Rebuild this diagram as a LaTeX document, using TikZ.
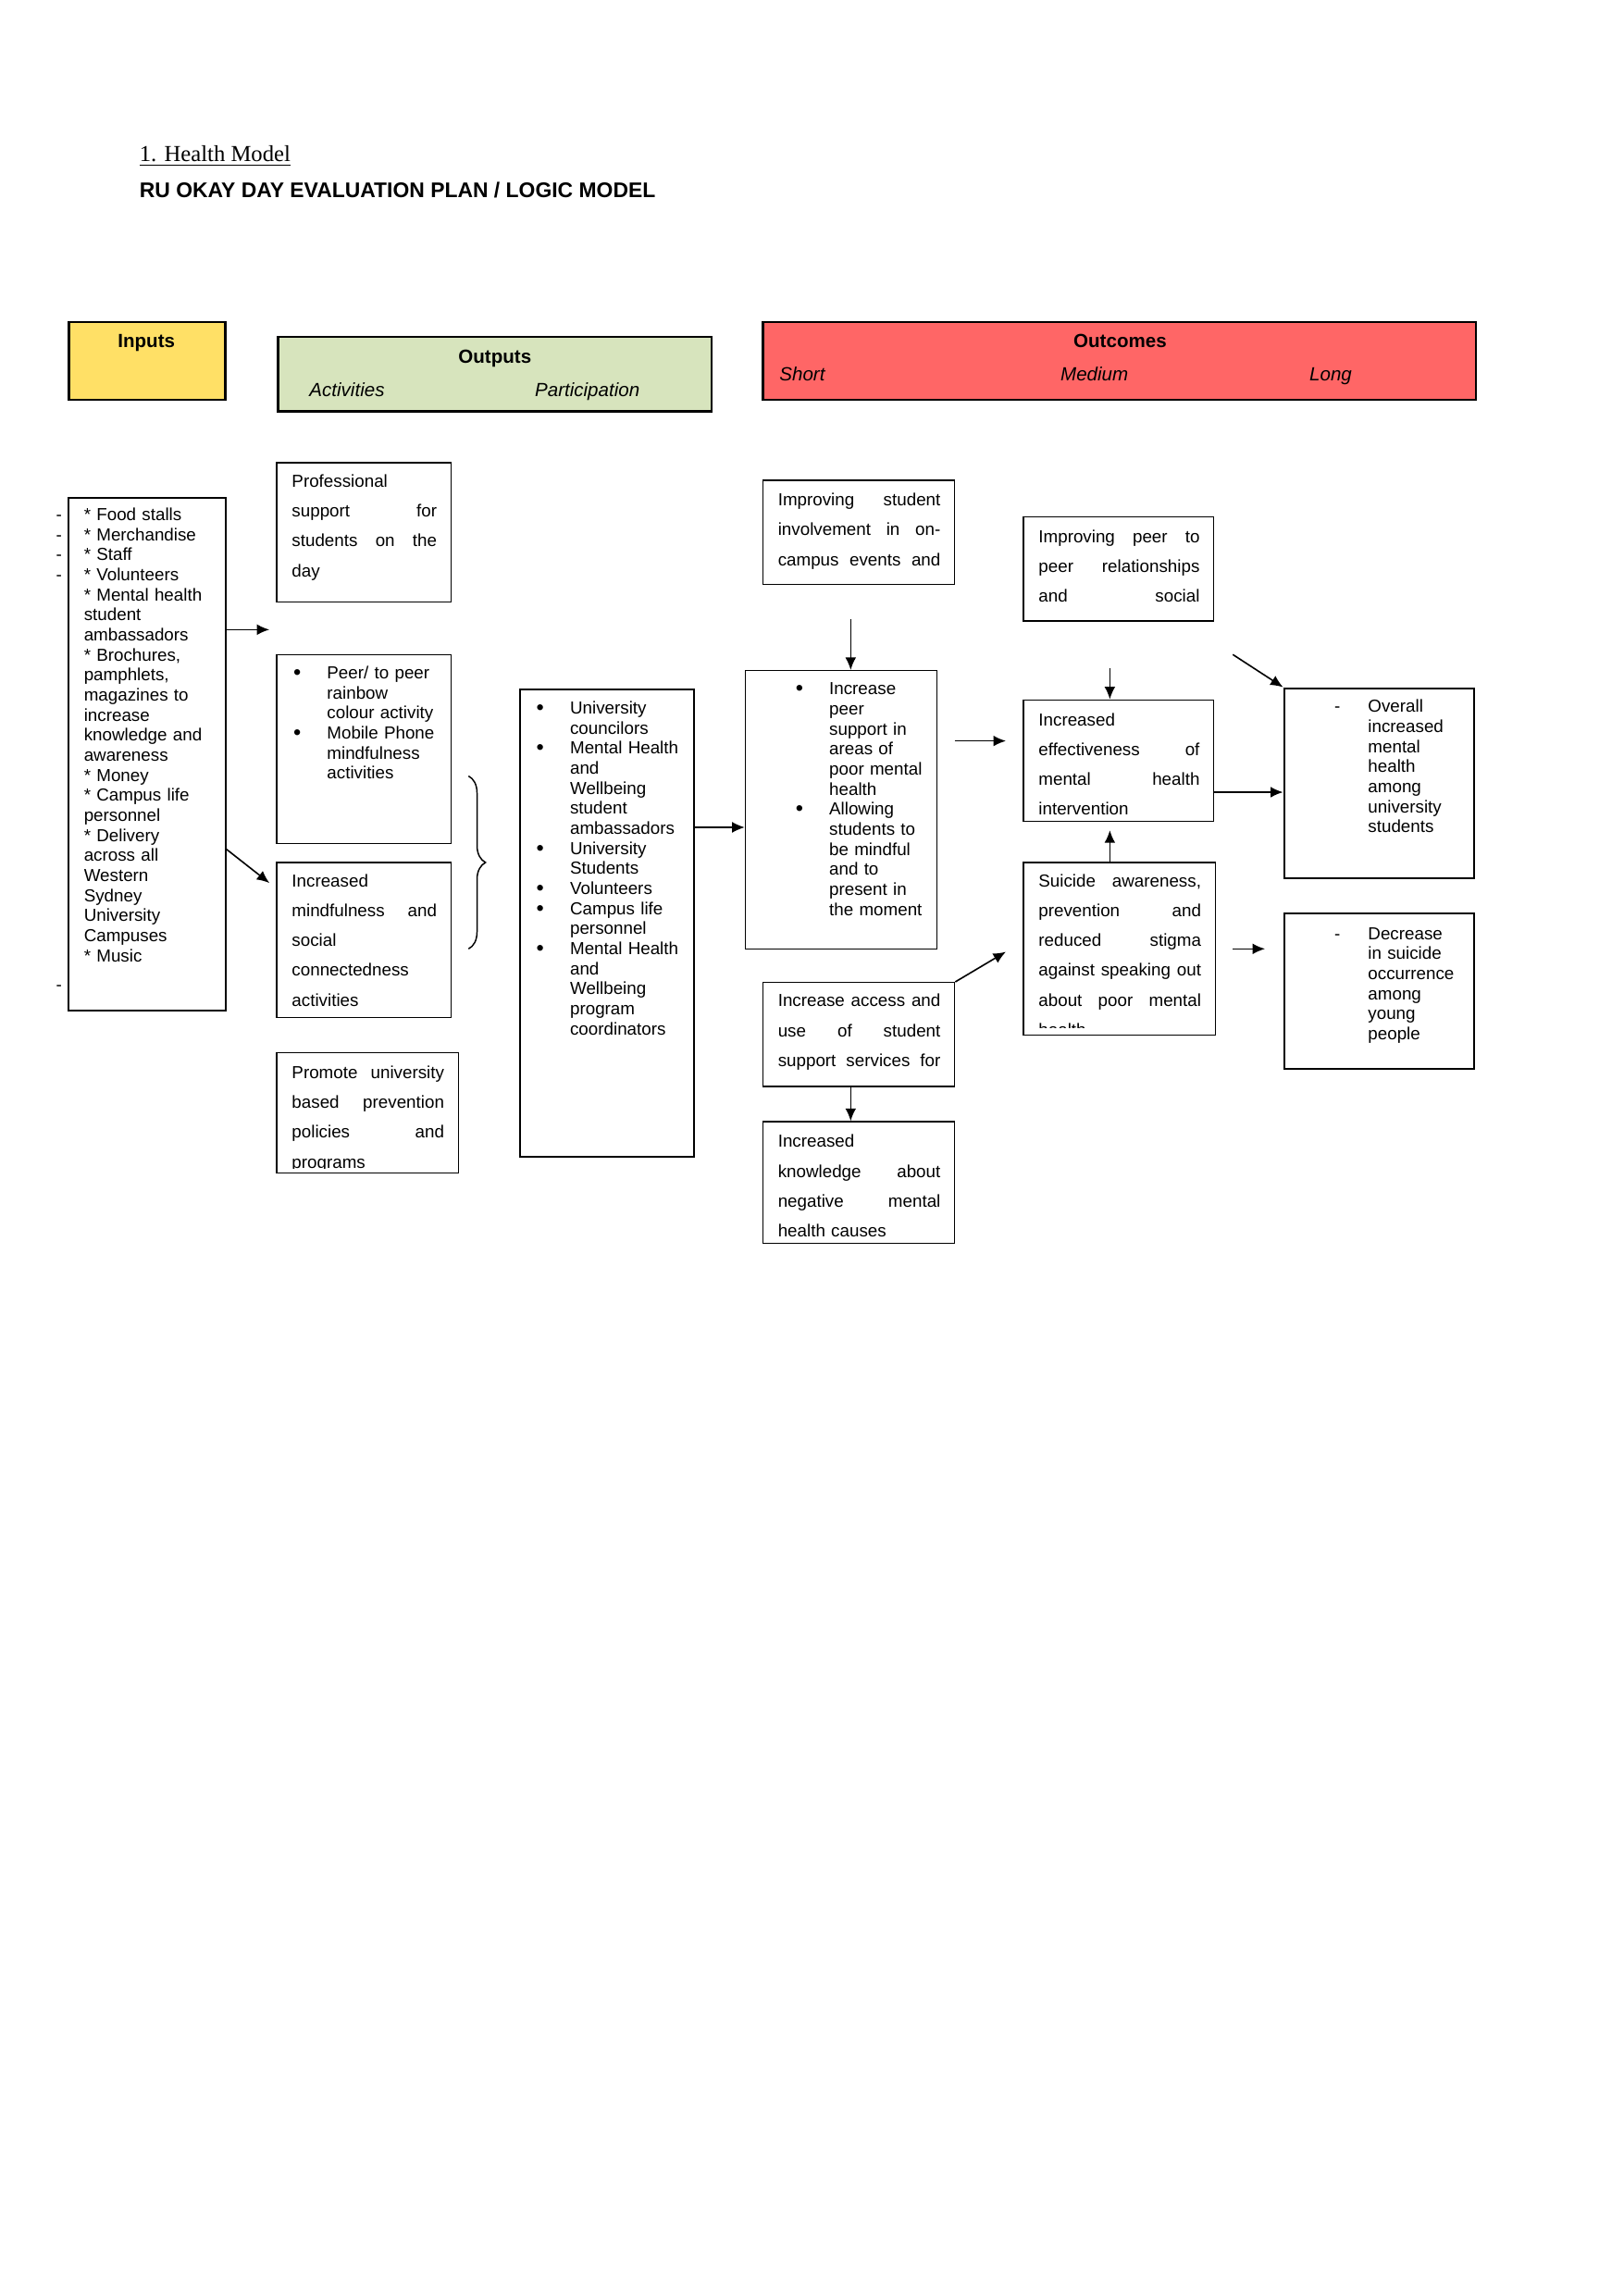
\documentclass[tikz,border=0pt]{standalone}
\usepackage{fontspec}
\setmainfont{Liberation Sans}
\newfontfamily\serifttl{Liberation Serif}
\usetikzlibrary{arrows.meta, calc, positioning, fit, decorations.pathreplacing}
\definecolor{inyellow}{RGB}{255, 224, 102}
\definecolor{outgreen}{RGB}{215, 228, 189}
\definecolor{outcred}{RGB}{255, 102, 102}
\newlength{\px}\setlength{\px}{0.18936mm}
\newcommand{\tightfont}{\fontsize{6.4}{7.38}\selectfont}
\newcommand{\loosefont}{\fontsize{6.4}{11}\selectfont}
\newcommand{\lbul}{\makebox[23\px][l]{\raisebox{-0.1ex}{\fontsize{8}{8}\selectfont\textbullet}}}
\newcommand{\ldash}{\makebox[23\px][l]{-}}
\newcommand{\lind}{\hspace*{23\px}}

\begin{document}
\begin{tikzpicture}[x=0.18936mm, y=-0.18936mm,
  box/.style={draw, line width=0.5pt, inner sep=0pt},
  thickbox/.style={draw, line width=0.75pt, inner sep=0pt},
  headbox/.style={draw, line width=0.8pt, inner sep=0pt},
  txt/.style={anchor=base west, inner sep=0pt, align=left},
  arr/.style={-{Latex[length=4.6pt, width=4pt]}, line width=0.55pt}]

  \fill[white](0,0)rectangle(1109,1568);

  %--- title ---
  \node[txt, font=\serifttl\fontsize{8.4}{9}\selectfont] (ttl) at (95,110)
    {\underline{1. Health Model}};
  \node[txt, font=\bfseries\fontsize{7.8}{9}\selectfont] (subttl) at (95,135)
    {RU OKAY DAY EVALUATION PLAN / LOGIC MODEL};

  %--- header boxes ---
  \node[headbox, fill=inyellow, fit={(47,220) (154,273)}] (hin) {};
  \node[headbox, fill=outgreen, fit={(190,230) (486,281)}] (hout) {};
  \node[headbox, fill=outcred, fit={(521,220) (1008,273)}] (hoc) {};
  \node[anchor=base, inner sep=0pt, font=\bfseries\fontsize{7}{8}\selectfont] (hintxt) at (100,237) {Inputs};
  \node[anchor=base, inner sep=0pt, font=\bfseries\fontsize{7}{8}\selectfont] (houttxt) at (338,248) {Outputs};
  \node[txt, font=\itshape\fontsize{7}{8}\selectfont] (hact) at (211,271) {Activities};
  \node[txt, font=\itshape\fontsize{7}{8}\selectfont] (hpart) at (365,271) {Participation};
  \node[anchor=base, inner sep=0pt, font=\bfseries\fontsize{7}{8}\selectfont] (hoctxt) at (765,237) {Outcomes};
  \node[txt, font=\itshape\fontsize{7}{8}\selectfont] (hshort) at (532,260) {Short};
  \node[txt, font=\itshape\fontsize{7}{8}\selectfont] (hmed) at (724,260) {Medium};
  \node[txt, font=\itshape\fontsize{7}{8}\selectfont] (hlong) at (894,260) {Long};

  %--- inputs ---
  \node[thickbox, fit={(47,340) (154,690)}] (inlist) {};
  \node[txt, font=\tightfont, text width=94\px] (inlisttxt) at (57,355.5)
    {{*} Food stalls\\ {*} Merchandise\\ {*} Staff\\ {*} Volunteers\\ {*} Mental health\\
     student\\ ambassadors\\ {*} Brochures,\\ pamphlets,\\ magazines to\\ increase\\
     knowledge and\\ awareness\\ {*} Money\\ {*} Campus life\\ personnel\\ {*} Delivery\\
     across all\\ Western\\ Sydney\\ University\\ Campuses\\ {*} Music};
  \node[txt, font=\tightfont, text width=10\px] (indash) at (38,355.5) {-\\-\\-\\-};
  \node[txt, font=\tightfont] (indashb) at (38,676.5) {-};

  %--- activities ---
  \node[box, fit={(189,316) (308,411)}] (prof) {};
  \node[txt, font=\loosefont, text width=99\px] (proftxt) at (199,332.5)
    {Professional\\ support\hfill for\\ students\hfill on\hfill the\\ day};
  \node[box, fit={(189,447) (308,576)}] (peer) {};
  \node[txt, font=\tightfont, text width=105\px] (peertxt) at (200,463.5)
    {\lbul Peer/ to peer\\ \lind rainbow\\ \lind colour activity\\
     \lbul Mobile Phone\\ \lind mindfulness\\ \lind activities};
  \node[box, fit={(189,589) (308,695)}] (mindful) {};
  \node[txt, font=\loosefont, text width=99\px] (mindfultxt) at (199,605.5)
    {Increased\\ mindfulness\hfill and\\ social\\ connectedness\\ activities};
  \node[box, fit={(189,719) (313,801)}] (promote) {};
  \begin{scope}
    \clip (promote.north west) rectangle ($(promote.south east)+(0,-3.5)$);
    \node[txt, font=\loosefont, text width=104\px] (promotetxt) at (199,736.5)
      {Promote\hfill university\\ based\hfill prevention\\ policies\hfill and\\ programs};
  \end{scope}

  %--- brace ---
  \coordinate (brT) at (320,530);
  \coordinate (brB) at (320,648);
  \draw[decorate, decoration={brace, amplitude=2.2mm}, line width=0.5pt] (brT) -- (brB);

  %--- participation ---
  \node[thickbox, fit={(355,471) (474,790)}] (partic) {};
  \node[txt, font=\tightfont, text width=104\px] (partictxt) at (366,487.5)
    {\lbul University\\ \lind councilors\\ \lbul Mental Health\\ \lind and\\
     \lind Wellbeing\\ \lind student\\ \lind ambassadors\\ \lbul University\\
     \lind Students\\ \lbul Volunteers\\ \lbul Campus life\\ \lind personnel\\
     \lbul Mental Health\\ \lind and\\ \lind Wellbeing\\ \lind program\\
     \lind coordinators};

  %--- short outcomes ---
  \node[box, fit={(521,328) (652,399)}] (involve) {};
  \node[txt, font=\loosefont, text width=111\px] (involvetxt) at (531,345.5)
    {Improving\hfill student\\ involvement\hfill in\hfill on-\\ campus\hfill events\hfill and};
  \node[box, fit={(509,458) (640,648)}] (incpeer) {};
  \node[txt, font=\tightfont, text width=95\px] (incpeertxt) at (543,474.5)
    {\lbul Increase\\ \lind peer\\ \lind support in\\ \lind areas of\\
     \lind poor mental\\ \lind health\\ \lbul Allowing\\ \lind students to\\
     \lind be mindful\\ \lind and to\\ \lind present in\\ \lind the moment};
  \node[box, fit={(521,671) (652,742)}] (access) {};
  \node[txt, font=\loosefont, text width=111\px] (accesstxt) at (531,687.5)
    {Increase\hfill access\hfill and\\ use\hfill of\hfill student\\ support\hfill services\hfill for};
  \node[box, fit={(521,766) (652,849)}] (know) {};
  \node[txt, font=\loosefont, text width=111\px] (knowtxt) at (531,783.5)
    {Increased\\ knowledge\hfill about\\ negative\hfill mental\\ health causes};

  %--- medium outcomes ---
  \node[box, fit={(699,353) (829,424)}] (relat) {};
  \node[txt, font=\loosefont, text width=110\px] (relattxt) at (709,370.5)
    {Improving\hfill peer\hfill to\\ peer\hfill relationships\\ and\hfill social};
  \node[box, fit={(699,478) (829,561)}] (effect) {};
  \node[txt, font=\loosefont, text width=110\px] (effecttxt) at (709,495.5)
    {Increased\\ effectiveness\hfill of\\ mental\hfill health\\ intervention};
  \node[box, fit={(699,589) (830,707)}] (suicide) {};
  \begin{scope}
    \clip (suicide.north west) rectangle ($(suicide.south east)+(0,-5.5)$);
    \node[txt, font=\loosefont, text width=111\px] (suicidetxt) at (709,605.5)
      {Suicide\hfill awareness,\\ prevention\hfill and\\ reduced\hfill stigma\\
       against\hfill speaking\hfill out\\ about\hfill poor\hfill mental\\ health};
  \end{scope}

  %--- long outcomes ---
  \node[thickbox, fit={(877,470) (1007,600)}] (overall) {};
  \node[txt, font=\tightfont, text width=95\px] (overalltxt) at (911,486.5)
    {\ldash Overall\\ \lind increased\\ \lind mental\\ \lind health\\
     \lind among\\ \lind university\\ \lind students};
  \node[thickbox, fit={(877,624) (1007,730)}] (decrease) {};
  \node[txt, font=\tightfont, text width=95\px] (decreasetxt) at (911,641.5)
    {\ldash Decrease\\ \lind in suicide\\ \lind occurrence\\ \lind among\\
     \lind young\\ \lind people};

  %--- arrows ---
  \coordinate (pA) at (184,430);
  \draw[arr] (inlist.east |- pA) -- (pA);
  \coordinate (pB0) at (154,580);
  \coordinate (pB) at (184,603);
  \draw[arr] (inlist.east |- pB0) -- (pB);
  \coordinate (rowC) at (0,565);
  \draw[arr, line width=0.4pt] (partic.east |- rowC) -- (incpeer.west |- rowC);
  \coordinate (pD) at (581,423);
  \draw[arr] (pD) -- (pD |- incpeer.north);
  \coordinate (pE0) at (652,506);
  \coordinate (pE1) at (687,506);
  \draw[arr] (pE0) -- (pE1);
  \coordinate (pF) at (687,650);
  \draw[arr] (access.north east) -- (pF);
  \coordinate (colG) at (581,0);
  \draw[arr] (access.south -| colG) -- (know.north -| colG);
  \coordinate (pH) at (758,456);
  \draw[arr] (pH) -- (pH |- effect.north);
  \coordinate (pI) at (758,567);
  \draw[arr] (suicide.north -| pI) -- (pI);
  \coordinate (rowJ) at (0,541);
  \draw[arr] (effect.east |- rowJ) -- (overall.west |- rowJ);
  \coordinate (pK) at (842,447);
  \draw[arr] (pK) -- (overall.north west);
  \coordinate (pL0) at (842,648);
  \coordinate (pL1) at (864,648);
  \draw[arr] (pL0) -- (pL1);
\end{tikzpicture}
\end{document}
